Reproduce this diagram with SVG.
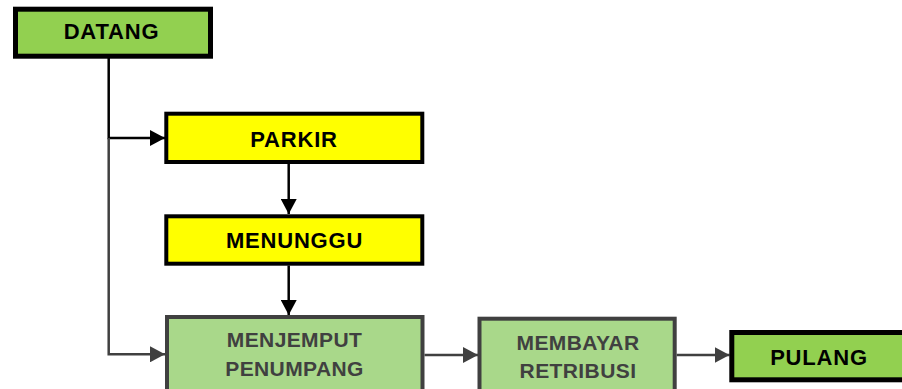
<svg xmlns="http://www.w3.org/2000/svg" width="902" height="389" viewBox="0 0 902 389">
<defs>
<style>
.lbl{font-family:"Liberation Sans",Arial,sans-serif;font-weight:bold;text-anchor:middle}
.big{font-size:22px;letter-spacing:0.8px;fill:#000}
.sm{font-size:21px;letter-spacing:0.4px;fill:#404040}
.ln{fill:none;stroke:#000;stroke-width:2.5}
.lg{fill:none;stroke:#404040;stroke-width:2.5}
</style>
<marker id="ah" markerWidth="15" markerHeight="16" refX="15" refY="8" orient="auto" markerUnits="userSpaceOnUse"><path d="M0,0 L15,8 L0,16 Z" fill="#000"/></marker>
<marker id="ag" markerWidth="15" markerHeight="16" refX="15" refY="8" orient="auto" markerUnits="userSpaceOnUse"><path d="M0,0 L15,8 L0,16 Z" fill="#404040"/></marker>
</defs>
<rect width="902" height="389" fill="#fff"/>
<g id="connectors">
<path class="ln" d="M108.7,58 V138 H165" marker-end="url(#ah)"/>
<path class="lg" d="M108.7,138 V354.3 H165" marker-end="url(#ag)"/>
<path class="ln" d="M288.7,164 V214" marker-end="url(#ah)"/>
<path class="ln" d="M288.7,265.5 V315" marker-end="url(#ah)"/>
<path class="lg" d="M424.5,355 H478" marker-end="url(#ag)"/>
<path class="lg" d="M676.7,355 H729.5" marker-end="url(#ag)"/>
</g>
<g id="datang">
<rect x="15.5" y="9.2" width="195" height="47" fill="#92D050" stroke="#000" stroke-width="5"/>
<text class="lbl big" x="111.5" y="38.5">DATANG</text>
</g>
<g id="parkir">
<rect x="166.3" y="113.7" width="256" height="48.3" fill="#FFFF00" stroke="#000" stroke-width="4"/>
<text class="lbl big" x="294" y="146.5">PARKIR</text>
</g>
<g id="menunggu">
<rect x="166.3" y="216.3" width="256" height="47.4" fill="#FFFF00" stroke="#000" stroke-width="4"/>
<text class="lbl big" x="294.5" y="248">MENUNGGU</text>
</g>
<g id="menjemput">
<rect x="167" y="317" width="255.5" height="80" fill="#A9D88A" stroke="#404040" stroke-width="4"/>
<text class="lbl sm" x="294.5" y="347">MENJEMPUT</text>
<text class="lbl sm" x="294.5" y="376">PENUMPANG</text>
</g>
<g id="membayar">
<rect x="479.5" y="318.7" width="195.2" height="80" fill="#A9D88A" stroke="#404040" stroke-width="4"/>
<text class="lbl sm" x="578" y="350">MEMBAYAR</text>
<text class="lbl sm" x="578" y="378">RETRIBUSI</text>
</g>
<g id="pulang">
<rect x="731.8" y="332.5" width="180" height="47.3" fill="#92D050" stroke="#000" stroke-width="5"/>
<text class="lbl big" x="819" y="365">PULANG</text>
</g>
</svg>
